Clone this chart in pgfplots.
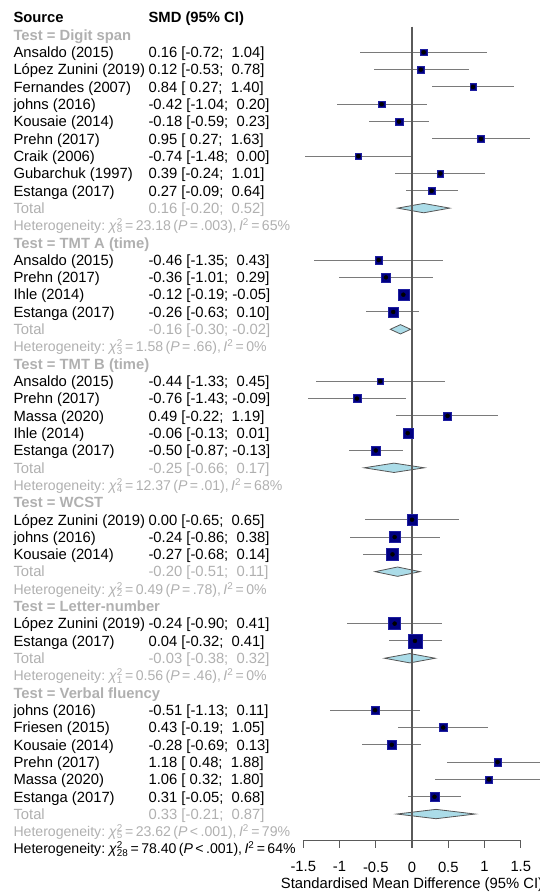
\documentclass[border=0pt]{standalone}
\usepackage{fontspec}
\setmainfont{Liberation Sans}
\usepackage{pgfplots}
\pgfplotsset{compat=1.18}
\usepackage{pgfplotstable}

\definecolor{sqfill}{HTML}{000080}
\definecolor{sqdraw}{HTML}{1E1EA0}
\definecolor{dmfill}{HTML}{ABDCE8}
\definecolor{dmdraw}{HTML}{555555}
\definecolor{ciline}{HTML}{7A7A7A}
\definecolor{axgray}{HTML}{5A5A5A}
\definecolor{txgray}{HTML}{B0B0B0}

\newcommand\fs{\fontsize{14.8pt}{17pt}\selectfont}
\newcommand\chisq[1]{\textit{χ}\rlap{\textsuperscript{2}}\textsubscript{#1}}
\newcommand\het[4]{{\fontsize{14.1pt}{17pt}\selectfont\spaceskip=0.17em\relax Heterogeneity: \chisq{#1} = #2 (\textit{P} #3), \textit{I}\textsuperscript{2} = #4\%}}
\newcommand\lrow[3][black]{\node[anchor=base west, font=\fs, text=#1, inner sep=0pt, yshift=-5.3pt] at (axis cs:-5.5,-#2) {#3};}
\newcommand\rrow[3][black]{\node[anchor=base west, font=\fs, text=#1, inner sep=0pt, yshift=-5.3pt] at (axis cs:-3.637,-#2) {#3};}

\pgfplotstableread{
y est lo hi s
-2 0.16 -0.72 1.04 6.3
-3 0.12 -0.53 0.78 6.5
-4 0.84 0.27 1.40 6.5
-5 -0.42 -1.04 0.20 6.5
-6 -0.18 -0.59 0.23 7.5
-7 0.95 0.27 1.63 6.5
-8 -0.74 -1.48 0.00 6
-9 0.39 -0.24 1.01 6.5
-10 0.27 -0.09 0.64 7.5
-14 -0.46 -1.35 0.43 7.3
-15 -0.36 -1.01 0.29 8.7
-16 -0.12 -0.19 -0.05 10.7
-17 -0.26 -0.63 0.10 10
-21 -0.44 -1.33 0.45 6.7
-22 -0.76 -1.43 -0.09 8
-23 0.49 -0.22 1.19 8
-24 -0.06 -0.13 0.01 10
-25 -0.50 -0.87 -0.13 9.3
-29 0.00 -0.65 0.65 10.7
-30 -0.24 -0.86 0.38 10.7
-31 -0.27 -0.68 0.14 12
-35 -0.24 -0.90 0.41 12
-36 0.04 -0.32 0.41 14
-40 -0.51 -1.13 0.11 8
-41 0.43 -0.19 1.05 8
-42 -0.28 -0.69 0.13 8.7
-43 1.18 0.48 1.88 7.3
-44 1.06 0.32 1.80 7.3
-45 0.31 -0.05 0.68 8.7
}\studies

\begin{document}
\begin{tikzpicture}
\path[use as bounding box] (0,0) rectangle (539pt,893pt);
\begin{axis}[
  at={(303.3pt,52.3pt)}, anchor=south west,
  scale only axis, width=217.5pt, height=814pt,
  xmin=-1.5, xmax=1.5, ymin=-47.54, ymax=-0.52,
  clip=false,
  axis x line=bottom, axis y line=none,
  axis line style={-, draw=axgray, line width=1.2pt},
  xtick={-1.5,-1,-0.5,0,0.5,1,1.5},
  xticklabels={-1.5,-1,-0.5,0,0.5,1,1.5},
  tick align=outside, major tick length=7pt,
  tick style={draw=axgray, line width=1.2pt},
  xticklabel style={font=\fs, yshift=-10.5pt},
  xlabel={Standardised Mean Difference (95\% CI)},
  xlabel style={font=\fs, yshift=1pt},
]
% diamonds (subtotals)
\addplot[fill=dmfill, draw=dmdraw, line width=0.8pt] coordinates {(-0.20,-11) (0.16,-10.73) (0.52,-11) (0.16,-11.27)} --cycle;
\addplot[fill=dmfill, draw=dmdraw, line width=0.8pt] coordinates {(-0.30,-18) (-0.16,-17.73) (-0.02,-18) (-0.16,-18.27)} --cycle;
\addplot[fill=dmfill, draw=dmdraw, line width=0.8pt] coordinates {(-0.66,-26) (-0.25,-25.73) (0.17,-26) (-0.25,-26.27)} --cycle;
\addplot[fill=dmfill, draw=dmdraw, line width=0.8pt] coordinates {(-0.51,-32) (-0.20,-31.73) (0.11,-32) (-0.20,-32.27)} --cycle;
\addplot[fill=dmfill, draw=dmdraw, line width=0.8pt] coordinates {(-0.38,-37) (-0.03,-36.73) (0.32,-37) (-0.03,-37.27)} --cycle;
\addplot[fill=dmfill, draw=dmdraw, line width=0.8pt] coordinates {(-0.21,-46) (0.33,-45.73) (0.87,-46) (0.33,-46.27)} --cycle;
% squares
\addplot[scatter, only marks, mark=square*,
  scatter/use mapped color={draw=sqdraw, fill=sqfill},
  visualization depends on={\thisrow{s}/2 \as \msize},
  scatter/@pre marker code/.append style={/tikz/mark size=\msize}]
  table[x=est, y=y] {\studies};
% confidence intervals
\addplot[only marks, mark=none,
  error bars/.cd, x dir=both, x explicit, error mark=none,
  error bar style={draw=ciline, line width=1pt}]
  table[x=est, y=y, x error plus expr=\thisrow{hi}-\thisrow{est}, x error minus expr=\thisrow{est}-\thisrow{lo}] {\studies};
% zero line
\addplot[axgray, line width=1.3pt] coordinates {(0,-0.52) (0,-47.54)};

% text
\lrow{0}{\textbf{Source}}\rrow{0}{\textbf{SMD (95\% CI)}}
\lrow[txgray]{1}{\textbf{Test = Digit span}}
\lrow{2}{Ansaldo (2015)}\rrow{2}{0.16 [-0.72;\ \ 1.04]}
\lrow{3}{López Zunini (2019)}\rrow{3}{0.12 [-0.53;\ \ 0.78]}
\lrow{4}{Fernandes (2007)}\rrow{4}{0.84 [\ 0.27;\ \ 1.40]}
\lrow{5}{johns (2016)}\rrow{5}{-0.42 [-1.04;\ \ 0.20]}
\lrow{6}{Kousaie (2014)}\rrow{6}{-0.18 [-0.59;\ \ 0.23]}
\lrow{7}{Prehn (2017)}\rrow{7}{0.95 [\ 0.27;\ \ 1.63]}
\lrow{8}{Craik (2006)}\rrow{8}{-0.74 [-1.48;\ \ 0.00]}
\lrow{9}{Gubarchuk (1997)}\rrow{9}{0.39 [-0.24;\ \ 1.01]}
\lrow{10}{Estanga (2017)}\rrow{10}{0.27 [-0.09;\ \ 0.64]}
\lrow[txgray]{11}{Total}\rrow[txgray]{11}{0.16 [-0.20;\ \ 0.52]}
\lrow[txgray]{12}{\het{8}{23.18}{= .003}{65}}
\lrow[txgray]{13}{\textbf{Test = TMT A (time)}}
\lrow{14}{Ansaldo (2015)}\rrow{14}{-0.46 [-1.35;\ \ 0.43]}
\lrow{15}{Prehn (2017)}\rrow{15}{-0.36 [-1.01;\ \ 0.29]}
\lrow{16}{Ihle (2014)}\rrow{16}{-0.12 [-0.19; -0.05]}
\lrow{17}{Estanga (2017)}\rrow{17}{-0.26 [-0.63;\ \ 0.10]}
\lrow[txgray]{18}{Total}\rrow[txgray]{18}{-0.16 [-0.30; -0.02]}
\lrow[txgray]{19}{\het{3}{1.58}{= .66}{0}}
\lrow[txgray]{20}{\textbf{Test = TMT B (time)}}
\lrow{21}{Ansaldo (2015)}\rrow{21}{-0.44 [-1.33;\ \ 0.45]}
\lrow{22}{Prehn (2017)}\rrow{22}{-0.76 [-1.43; -0.09]}
\lrow{23}{Massa (2020)}\rrow{23}{0.49 [-0.22;\ \ 1.19]}
\lrow{24}{Ihle (2014)}\rrow{24}{-0.06 [-0.13;\ \ 0.01]}
\lrow{25}{Estanga (2017)}\rrow{25}{-0.50 [-0.87; -0.13]}
\lrow[txgray]{26}{Total}\rrow[txgray]{26}{-0.25 [-0.66;\ \ 0.17]}
\lrow[txgray]{27}{\het{4}{12.37}{= .01}{68}}
\lrow[txgray]{28}{\textbf{Test = WCST}}
\lrow{29}{López Zunini (2019)}\rrow{29}{0.00 [-0.65;\ \ 0.65]}
\lrow{30}{johns (2016)}\rrow{30}{-0.24 [-0.86;\ \ 0.38]}
\lrow{31}{Kousaie (2014)}\rrow{31}{-0.27 [-0.68;\ \ 0.14]}
\lrow[txgray]{32}{Total}\rrow[txgray]{32}{-0.20 [-0.51;\ \ 0.11]}
\lrow[txgray]{33}{\het{2}{0.49}{= .78}{0}}
\lrow[txgray]{34}{\textbf{Test = Letter-number}}
\lrow{35}{López Zunini (2019)}\rrow{35}{-0.24 [-0.90;\ \ 0.41]}
\lrow{36}{Estanga (2017)}\rrow{36}{0.04 [-0.32;\ \ 0.41]}
\lrow[txgray]{37}{Total}\rrow[txgray]{37}{-0.03 [-0.38;\ \ 0.32]}
\lrow[txgray]{38}{\het{1}{0.56}{= .46}{0}}
\lrow[txgray]{39}{\textbf{Test = Verbal fluency}}
\lrow{40}{johns (2016)}\rrow{40}{-0.51 [-1.13;\ \ 0.11]}
\lrow{41}{Friesen (2015)}\rrow{41}{0.43 [-0.19;\ \ 1.05]}
\lrow{42}{Kousaie (2014)}\rrow{42}{-0.28 [-0.69;\ \ 0.13]}
\lrow{43}{Prehn (2017)}\rrow{43}{1.18 [\ 0.48;\ \ 1.88]}
\lrow{44}{Massa (2020)}\rrow{44}{1.06 [\ 0.32;\ \ 1.80]}
\lrow{45}{Estanga (2017)}\rrow{45}{0.31 [-0.05;\ \ 0.68]}
\lrow[txgray]{46}{Total}\rrow[txgray]{46}{0.33 [-0.21;\ \ 0.87]}
\lrow[txgray]{47}{\het{5}{23.62}{< .001}{79}}
\lrow{48}{\het{28}{78.40}{< .001}{64}}
\end{axis}
\end{tikzpicture}
\end{document}
